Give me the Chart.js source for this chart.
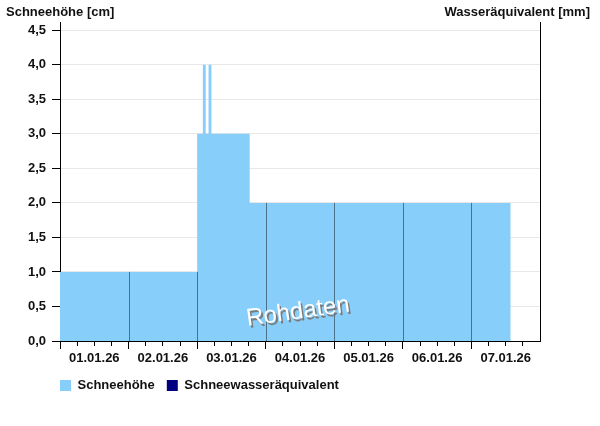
<!DOCTYPE html>
<html>
<head>
<meta charset="utf-8">
<script src="https://cdn.jsdelivr.net/npm/chart.js@4.4.1/dist/chart.umd.min.js"></script>
<style>
  body { margin: 0; background: #fff; }
  #chart { display: block; }
</style>
</head>
<body>
<canvas id="chart" width="600" height="426"></canvas>
<script>
// Stufen der Schneehöhe: Stunde ab 01.01.26 00:00 und Wert ab dieser Stunde
const stepHours = [0, 48, 50, 51, 52, 53, 66.4, 157.75];
const snowDepth = [1.0, 3.0, 4.0, 3.0, 4.0, 3.0, 2.0, 2.0];

// Schneewasseräquivalent: keine Werte vorhanden
const waterHours = [];
const waterValues = [];

const dayLabels = ['01.01.26', '02.01.26', '03.01.26', '04.01.26', '05.01.26', '06.01.26', '07.01.26'];
const yTicks = [0, 0.5, 1.0, 1.5, 2.0, 2.5, 3.0, 3.5, 4.0, 4.5];

const seriesNames = ['Schneehöhe', 'Schneewasseräquivalent'];
const leftTitle = 'Schneehöhe [cm]';
const rightTitle = 'Wasseräquivalent [mm]';
const watermark = 'Rohdaten';

Chart.defaults.font.family = '"Liberation Sans", Arial, sans-serif';
Chart.defaults.font.size = 13;
Chart.defaults.font.weight = 'bold';
Chart.defaults.color = '#111';

// Wert der Stufenkurve zu einer Stunde
function valueAt(h) {
    if (h >= stepHours[stepHours.length - 1]) return 0;
    let v = 0;
    for (let i = 0; i < stepHours.length; i++) {
        if (stepHours[i] <= h) v = snowDepth[i];
    }
    return v;
}

// dunkle Tagestrennlinien nur innerhalb der Fläche
const dayLinesPlugin = {
    id: 'dayLines',
    afterLayout(chart) {
        // Legende bündig mit der linken Achse
        const pad = chart.options.plugins.legend.labels.padding;
        chart.legend.left = chart.chartArea.left - pad;
    },
    afterDatasetsDraw(chart) {
        const ctx = chart.ctx;
        const x = chart.scales.x;
        const y = chart.scales.y;
        ctx.save();
        ctx.strokeStyle = '#4d7189';
        ctx.lineWidth = 1;
        for (let d = 1; d < dayLabels.length; d++) {
            const h = d * 24;
            const v = Math.min(valueAt(h - 0.01), valueAt(h + 0.01));
            if (v <= 0) continue;
            const px = Math.round(x.getPixelForValue(h)) + 0.5;
            ctx.beginPath();
            ctx.moveTo(px, y.getPixelForValue(0));
            ctx.lineTo(px, y.getPixelForValue(v));
            ctx.stroke();
        }
        ctx.restore();
    }
};

// Achsentitel oben und Wasserzeichen
const textPlugin = {
    id: 'texts',
    afterDraw(chart) {
        const ctx = chart.ctx;
        const area = chart.chartArea;
        ctx.save();
        ctx.font = 'bold 13px "Liberation Sans", Arial, sans-serif';
        ctx.fillStyle = '#111';
        ctx.textBaseline = 'alphabetic';
        ctx.textAlign = 'left';
        ctx.fillText(leftTitle, area.left - 54, 16);
        ctx.textAlign = 'right';
        ctx.fillText(rightTitle, area.right + 50, 16);

        ctx.translate((area.left + area.right) / 2 - 2, area.bottom - 29);
        ctx.rotate(-8 * Math.PI / 180);
        ctx.font = '24px "Liberation Sans", Arial, sans-serif';
        ctx.textAlign = 'center';
        ctx.textBaseline = 'middle';
        ctx.fillStyle = '#7a7a7a';
        ctx.fillText(watermark, 1.5, 2.5);
        ctx.fillStyle = '#ffffff';
        ctx.fillText(watermark, 0, 0);
        ctx.restore();
    }
};

const config = {
    type: 'line',
    data: {
        datasets: [
            {
                label: seriesNames[0],
                data: stepHours.map((h, i) => ({ x: h, y: snowDepth[i] })),
                stepped: 'before',
                fill: 'origin',
                backgroundColor: '#87cefa',
                borderColor: 'transparent',
                borderWidth: 0,
                pointRadius: 0,
                yAxisID: 'y'
            },
            {
                label: seriesNames[1],
                data: waterHours.map((h, i) => ({ x: h, y: waterValues[i] })),
                backgroundColor: '#000080',
                borderColor: 'transparent',
                borderWidth: 0,
                pointRadius: 0,
                yAxisID: 'y2'
            }
        ]
    },
    options: {
        responsive: false,
        animation: false,
        layout: { padding: { left: 0, right: 0, top: 22, bottom: 24 } },
        scales: {
            x: {
                type: 'linear',
                min: 0,
                max: dayLabels.length * 24,
                afterBuildTicks: (scale) => {
                    const t = [];
                    for (let h = 0; h < dayLabels.length * 24; h += 6) t.push({ value: h });
                    scale.ticks = t;
                },
                afterFit: (scale) => { scale.height = 26; },
                ticks: {
                    autoSkip: false,
                    maxRotation: 0,
                    minRotation: 0,
                    padding: 2,
                    color: '#111',
                    callback: (value) => value % 24 === 12 ? dayLabels[(value - 12) / 24] : ''
                },
                grid: {
                    drawOnChartArea: false,
                    tickLength: 8,
                    tickColor: '#000',
                    tickBorderDash: (ctx) => ctx.tick && ctx.tick.value % 24 === 0 ? [] : [4, 20]
                },
                border: { color: '#000', width: 1 }
            },
            y: {
                position: 'left',
                min: 0,
                max: 4.62,
                afterBuildTicks: (scale) => { scale.ticks = yTicks.map(v => ({ value: v })); },
                afterFit: (scale) => { scale.width = 60; },
                ticks: {
                    padding: 6,
                    color: '#111',
                    callback: (value) => value.toFixed(1).replace('.', ',')
                },
                grid: {
                    color: '#e8e8e8',
                    tickLength: 8,
                    tickColor: '#000'
                },
                border: { color: '#000', width: 1 }
            },
            y2: {
                position: 'right',
                min: 0,
                max: 1,
                afterFit: (scale) => { scale.width = 60; },
                ticks: { display: false },
                grid: { drawOnChartArea: false, drawTicks: false },
                border: { color: '#000', width: 1 }
            }
        },
        plugins: {
            legend: {
                position: 'bottom',
                align: 'start',
                labels: {
                    boxWidth: 11,
                    boxHeight: 11,
                    padding: 12,
                    color: '#111',
                    font: { size: 13, weight: 'bold' }
                }
            },
            tooltip: { enabled: false }
        }
    },
    plugins: [dayLinesPlugin, textPlugin]
};

new Chart(document.getElementById('chart'), config);
</script>
</body>
</html>
